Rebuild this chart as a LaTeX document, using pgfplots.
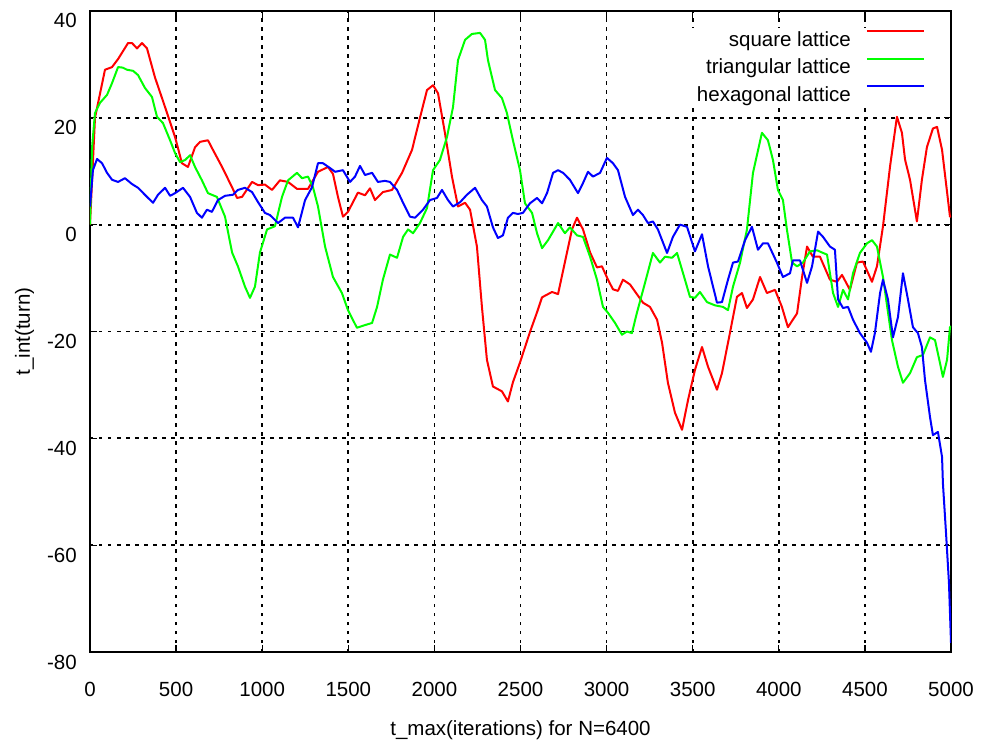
\documentclass[border=0pt]{standalone}
\usepackage{fontspec}
\setmainfont{Liberation Sans}
\usepackage{pgfplots}
\pgfplotsset{compat=1.18}
\begin{document}
\fontsize{20.5}{24}\selectfont
\begin{tikzpicture}
\useasboundingbox (-90pt,-97pt) rectangle (894pt,652pt);
\begin{axis}[
  at={(0pt,0pt)}, anchor=south west,
  scale only axis, width=861pt, height=641pt,
  xmin=0, xmax=5000, ymin=-80, ymax=40,
  xtick={0,500,...,5000}, ytick={-80,-60,...,40},
  xticklabels={0,500,1000,1500,2000,2500,3000,3500,4000,4500,5000},
  yticklabels={-80,-60,-40,-20,0,20,40},
  tick align=inside, major tick length=7pt,
  tick style={black, line width=1.3pt},
  xticklabel style={anchor=base, inner sep=0pt, yshift=-44pt},
  yticklabel style={anchor=base east, inner sep=0pt, xshift=-13pt, yshift=-17pt},
  grid=major,
  major grid style={black, line width=1.7pt, dash pattern=on 3.5pt off 5.5pt},
  axis line style={line width=2.2pt},
  xlabel={t\_max(iterations) for N=6400},
  ylabel={t\_int(turn)},
  xlabel style={at={(axis description cs:0.5,-0.1295)}, anchor=base},
  ylabel style={at={(axis description cs:-0.0697,0.5)}, anchor=base},
  legend cell align=right,
  legend plot pos=right,
  legend image code/.code={\draw[#1, line width=2pt] (0pt,9.5pt) -- (57pt,9.5pt);},
  legend style={at={(rel axis cs:0.9733,0.9743)}, anchor=north east, draw=none, fill=white,
    row sep=5.5pt, column sep=13pt, font=\fontsize{20.5}{24}\selectfont},
  every axis plot/.append style={line width=2pt, line join=round},
]
\addplot[color={rgb,255:red,255;green,0;blue,0}] table {
0 0
29 20
87 29
128 29.5
163 31
221 34
244 34
273 33
302 34
331 33
377 27.6
436 22
494 16.4
534 11.5
569 10.8
610 14.5
639 15.5
685 15.8
714 14
767 10.8
825 7
854 5
883 5.2
941 8
976 7.4
1016 7.5
1057 6.5
1103 8.3
1150 8
1202 6.7
1266 6.7
1324 9.9
1382 10.8
1411 9.5
1440 5.2
1469 1.5
1498 2.4
1556 6
1597 5.5
1626 6.8
1655 4.6
1701 6.1
1754 6.5
1812 9.7
1870 14
1916 20
1957 25.2
1992 26.1
2021 24.6
2061 17.2
2102 9
2137 3.4
2178 4.1
2207 2.8
2247 -4.1
2276 -15.4
2305 -25.3
2340 -30.3
2392 -31.2
2427 -33.1
2456 -29.5
2497 -25.8
2555 -20.1
2596 -16.4
2625 -13.6
2683 -12.6
2718 -13
2770 -5.2
2799 -0.9
2828 1.3
2863 -0.9
2904 -5.2
2944 -8
2973 -7.8
3008 -10.3
3037 -12.1
3066 -12.4
3095 -10.3
3136 -11.2
3211 -14.6
3252 -15.4
3293 -17.8
3322 -22.1
3356 -29.6
3397 -35.2
3438 -38.4
3473 -32.8
3513 -27.2
3554 -22.9
3589 -26.6
3641 -30.9
3670 -27.8
3716 -20.3
3757 -13.5
3786 -12.8
3815 -15.6
3850 -14
3891 -9.8
3931 -12.8
3978 -12.2
4018 -15.4
4053 -19.2
4106 -16.6
4135 -9.8
4164 -4.1
4198 -6
4239 -6
4297 -10.3
4338 -10.7
4367 -9.4
4413 -12.2
4454 -7.1
4489 -6.9
4541 -10.7
4570 -7.8
4605 -0.3
4646 10.9
4686 20.2
4715 17.2
4733 12.2
4762 8.4
4802 0.6
4831 8.4
4860 14.5
4895 18
4919 18.3
4948 14
4994 1.5
5000 1.5
};
\addlegendentry{square lattice}
\addplot[color={rgb,255:red,0;green,255;blue,0}] table {
0 0
12 14.5
29 20.9
58 22.8
99 24.3
128 26.5
163 29.5
190 29.4
215 29
250 28.8
279 28
319 25.6
360 23.9
389 20.2
424 19
465 15.8
494 13.4
523 11.7
552 12.1
581 13
610 10.8
650 8.3
685 5.9
737 5.2
784 1.5
825 -5.2
859 -7.8
900 -11.6
929 -13.7
958 -11.6
987 -5.2
1028 -0.9
1074 -0.3
1115 5.2
1150 8.3
1202 9.7
1231 8.7
1266 9
1295 7
1324 3.4
1365 -4.1
1411 -9.8
1463 -12.8
1498 -16
1550 -19.3
1597 -18.8
1638 -18.4
1667 -15.4
1701 -10.3
1742 -5.6
1783 -6.2
1818 -2.3
1847 -0.9
1876 -1.6
1916 0.3
1957 3.1
1992 10.2
2032 12.1
2073 16.4
2108 22
2137 30.8
2178 34.6
2218 35.7
2265 35.9
2294 34.6
2311 30.8
2352 25.2
2392 23.7
2421 20.9
2456 15.8
2497 10.2
2526 4
2567 2.2
2596 -1.6
2625 -4.4
2660 -2.9
2718 0.3
2758 -1.6
2787 -0.5
2828 -2
2863 -2.3
2904 -6
2944 -10.3
2979 -15.4
3008 -16.5
3049 -18.4
3089 -20.6
3118 -20
3147 -20.3
3176 -16.5
3223 -10.9
3269 -5.3
3310 -7.1
3339 -6
3380 -6.2
3409 -5.3
3444 -9.1
3484 -13.5
3513 -13.7
3542 -12.6
3583 -14.5
3629 -15.1
3676 -15.4
3705 -16
3734 -11.6
3775 -7.1
3815 -0.9
3850 9.7
3902 17.2
3937 15.8
3966 12.1
3995 6.5
4024 4.6
4047 -0.9
4077 -7.1
4106 -7.8
4140 -7.1
4181 -5
4222 -4.8
4257 -5.3
4280 -5.6
4315 -12.8
4344 -15.4
4373 -12.2
4402 -14
4431 -9.1
4471 -5.3
4512 -3.5
4541 -2.9
4570 -4.1
4605 -9.8
4657 -21.6
4692 -26.6
4721 -29.6
4762 -27.8
4802 -24.8
4837 -24.4
4878 -21.1
4907 -21.6
4936 -25.9
4953 -28.5
4977 -25.3
4994 -19.2
5000 -19
};
\addlegendentry{triangular lattice}
\addplot[color={rgb,255:red,0;green,0;blue,255}] table {
0 3.4
17 10.2
41 12.3
70 11.5
99 9.7
128 8.4
163 8
203 8.7
244 7.6
279 6.9
331 5.2
366 4.1
395 5.6
436 6.9
465 5.4
494 5.9
540 6.9
581 5.2
621 2.2
650 1.3
679 2.8
708 2.4
743 4.6
784 5.4
830 5.6
859 6.5
900 6.9
941 6.1
976 4.2
1016 2.2
1045 1.8
1092 0.3
1132 1.3
1179 1.3
1208 -0.5
1249 4.6
1289 7
1324 11.5
1353 11.5
1394 10.6
1423 9.9
1469 10.2
1510 8
1539 9
1568 11
1597 9.3
1638 9.7
1672 8
1713 8.2
1742 8
1783 6.5
1818 4.1
1858 1.5
1887 1.3
1934 2.8
1974 4.6
2015 5
2044 6.5
2079 4.6
2108 3.4
2149 4.2
2189 5.6
2236 6.9
2276 4.6
2305 3.4
2340 -0.5
2369 -2.5
2398 -2
2427 1.3
2456 2.2
2485 2
2514 2.2
2555 4
2596 5
2625 4
2654 5.9
2689 9.7
2718 10.2
2747 9.7
2787 8.4
2834 5.9
2863 7.8
2892 9.9
2921 9
2962 9.7
3002 12.5
3037 11.5
3066 10.2
3107 5.2
3153 1.8
3182 2.8
3211 1.8
3240 0.3
3269 0.6
3298 -0.9
3322 -2.9
3351 -5.3
3385 -2.3
3426 0
3467 -0.4
3513 -5
3554 -1.8
3589 -7.8
3641 -14.6
3670 -14.5
3705 -10.3
3734 -7.1
3763 -6.9
3804 -2.9
3844 -0.4
3879 -4.7
3908 -3.5
3937 -3.5
3989 -7.1
4024 -9.8
4065 -9.1
4082 -6.7
4123 -6.7
4164 -10.9
4193 -7.8
4228 -1.3
4257 -2.3
4297 -4.1
4326 -4.7
4344 -14
4373 -15.6
4402 -15.4
4431 -17.8
4471 -20.3
4512 -22.1
4535 -23.8
4558 -20.3
4588 -12.8
4605 -10.3
4634 -14
4663 -21.1
4692 -17.3
4721 -9.1
4750 -14
4779 -19.2
4808 -20.3
4831 -22.9
4849 -29.1
4878 -36
4895 -39.4
4924 -38.8
4948 -43.5
4953 -48.4
4971 -57.7
4988 -67
5000 -78.3
};
\addlegendentry{hexagonal lattice}
\end{axis}
\end{tikzpicture}
\end{document}
